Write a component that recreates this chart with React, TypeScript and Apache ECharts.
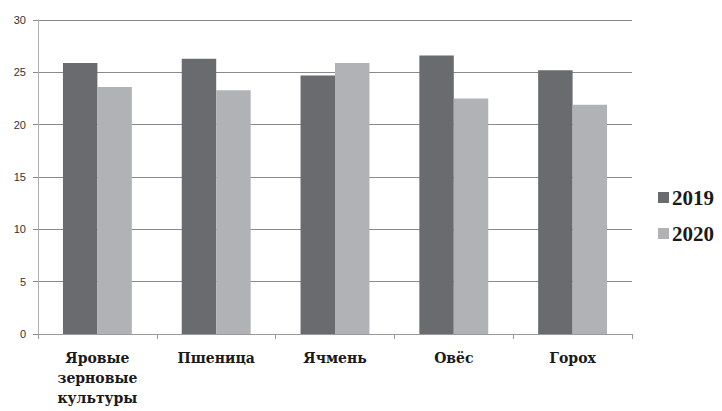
import React, { useEffect, useRef } from "react";
import * as echarts from "echarts";

const categories = ["Яровые\nзерновые\nкультуры", "Пшеница", "Ячмень", "Овёс", "Горох"];
const values2019 = [25.9, 26.3, 24.7, 26.6, 25.2];
const values2020 = [23.6, 23.3, 25.9, 22.5, 21.9];
const seriesNames = ["2019", "2020"];

export default function App() {
  const ref = useRef<HTMLDivElement>(null);
  useEffect(() => {
    if (!ref.current) return;
    const chart = echarts.init(ref.current, null, { renderer: "svg" });
    chart.setOption({
      animation: false,
      backgroundColor: "#ffffff",
      grid: { left: 38, right: 90, top: 20, bottom: 77, containLabel: false },
      legend: {
        orient: "vertical",
        left: 653,
        top: 182,
        itemWidth: 11,
        itemHeight: 11,
        itemGap: 15,
        icon: "rect",
        data: seriesNames,
        textStyle: {
          fontFamily: "Liberation Serif",
          fontWeight: "bold",
          fontSize: 21,
          color: "#1a1a1a",
          padding: [0, 0, 0, -2],
        },
      },
      xAxis: {
        type: "category",
        data: categories,
        axisLine: { show: true, lineStyle: { color: "#9a9a9a", width: 1 } },
        axisTick: { show: true, length: 5, lineStyle: { color: "#9a9a9a" } },
        axisLabel: {
          margin: 14,
          fontFamily: "DejaVu Serif",
          fontWeight: "bold",
          fontSize: 14,
          lineHeight: 20,
          color: "#1a1a1a",
          interval: 0,
        },
      },
      yAxis: {
        type: "value",
        min: 0,
        max: 30,
        interval: 5,
        axisLine: { show: true, lineStyle: { color: "#b0b0b0", width: 1 } },
        axisTick: { show: true, length: 5, lineStyle: { color: "#8a8a8a" } },
        splitLine: { show: true, lineStyle: { color: "#8a8a8a", width: 1 } },
        axisLabel: {
          margin: 12,
          fontFamily: "Liberation Sans",
          fontSize: 11,
          color: "#333333",
        },
      },
      series: [
        {
          name: seriesNames[0],
          type: "bar",
          data: values2019,
          barGap: "0%",
          barCategoryGap: "42%",
          itemStyle: { color: "#6a6b6f" },
        },
        {
          name: seriesNames[1],
          type: "bar",
          data: values2020,
          itemStyle: { color: "#b1b2b6" },
        },
      ],
    });
    return () => chart.dispose();
  }, []);
  return (
    <div
      ref={ref}
      style={{ position: "fixed", left: 0, top: 0, width: 722, height: 411 }}
    />
  );
}
